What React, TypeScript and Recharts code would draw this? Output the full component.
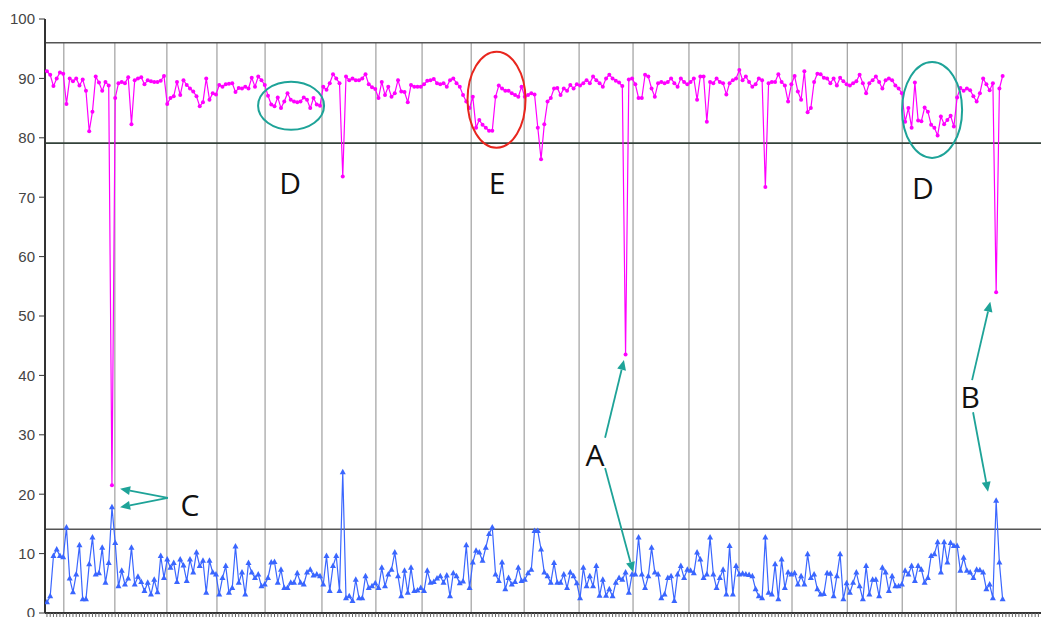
import React from 'react';
import { LineChart, Line, XAxis, YAxis, ReferenceLine, ReferenceDot } from 'recharts';

// upper series (magenta), one value per sample, grouped by the blocks between the vertical dividers
const upperSeries = [
  91.2, 90.6, 88.7, 90, 91, 90.8,
  85.7, 90, 89.5, 90, 88.8, 89.8, 87.9, 81.1, 84.4, 90.3, 89.3, 87.9, 89.4, 88.8, 21.5,
  86.7, 89.2, 89.4, 89.2, 90.2, 82.3, 89.7, 90, 90.2, 89, 89.7, 89.5, 89.4, 89.4, 89.6, 90.4,
  85.7, 86.7, 87, 89.4, 87.2, 89.7, 88.9, 88.3, 87.8, 87, 85.3, 86, 90, 86.4, 87.5, 87.3,
  88.9, 88.6, 89, 89.1, 89.2, 87.7, 88.4, 88.3, 88.6, 88.3, 90.1, 88.6, 90.3, 89.7, 88.9,
  87.1, 85.6, 85.3, 86.8, 85, 86.1, 87.5, 86.4, 86.1, 86, 86.1, 86.8, 86.4, 85, 86.7, 85.6, 85.4,
  88.6, 88.1, 89.2, 90.7, 90, 89.2, 73.5, 90.3, 89.7, 90, 89.7, 89.7, 90, 90.7, 89, 88.5, 88.2,
  86.7, 89.4, 87.2, 88.6, 86.9, 87.5, 89.7, 87.8, 87.7, 86, 88.9, 88.6, 88.6, 88.6,
  89, 89.6, 89.7, 89.9, 89.2, 89, 89.2, 88.6, 89.7, 90, 89.2, 88.6, 87.2, 86.1, 85,
  86.9, 81.7, 83, 82.2, 81.7, 81.2, 81.2, 86.9, 88.8, 88.3, 87.9, 87.9, 87.5, 87.2, 86.9, 88.6,
  86.9, 87.2, 87.5, 87.3, 81.7, 76.4, 82.3, 86.1, 86.7, 88.3, 88.4, 87.2, 88.3, 87.9, 88.9, 88.3, 89,
  88.8, 89.2, 89.7, 89.2, 90.3, 89.7, 89.2, 88.6, 90, 90.6, 90, 89.6, 89.3, 88.7, 43.5, 89.8, 90,
  89, 86.7, 86.7, 90.6, 90.3, 88.3, 86.9, 89.2, 89.4, 89.2, 89.4, 90, 89.2, 88.6, 90, 89.4, 89,
  89.4, 90, 86.4, 90.3, 90.3, 82.7, 89.4, 89.2, 90, 89.4, 89.2, 87.3, 89.2, 89.7, 90,
  91.4, 89.7, 90.3, 89.4, 88.6, 89, 90, 89.7, 71.7, 89.2, 89.4, 89.4, 90.7, 89.4, 88.8, 86.1, 89,
  90.4, 87.8, 86.4, 91.2, 84.3, 85, 89.4, 90.8, 90.7, 90.1, 90, 89.2, 90, 88.8, 90.1, 89.5, 89,
  88.8, 89.2, 89.5, 90.6, 89.2, 87.5, 89.2, 89.7, 90.3, 89.4, 88.3, 89.7, 90, 89.7, 88.8, 88.3, 87.5,
  82.7, 85, 81.7, 89.3, 82.9, 82.8, 85.1, 84.4, 82.2, 81.7, 80.4, 83.6, 82.3, 83, 83.7, 81.9,
  86.8, 88.4, 87.9, 88.3, 88, 87, 86.1, 87.5, 90, 89, 88, 89.2, 54, 88.3, 90.4,
];

// lower series (blue)
const lowerSeries = [
  1.8, 2.8, 9.6, 10.7, 9.6, 9.4,
  14.4, 5.8, 3.5, 6.5, 11.4, 2.3, 2.3, 8.2, 12.7, 6.5, 6.7, 11, 5.1, 8.4, 17.8,
  11.8, 4.5, 7.1, 4.8, 5.8, 11, 4.8, 6.1, 5.2, 3.7, 5.1, 3.1, 5.6, 3.5, 9.6, 5.9,
  9, 7.6, 8.4, 5.2, 9, 8, 5.4, 9, 6.8, 10.2, 7.9, 8.8, 3.4, 8.8, 6.8, 6.5,
  3.1, 5.9, 7.9, 3.4, 4.2, 11.2, 5.1, 6.8, 3.1, 8.4, 6.8, 5.9, 6.5, 4.5, 4.8,
  5.9, 8.5, 8.6, 5.1, 7.3, 4.2, 4.2, 5.1, 5.1, 6.7, 5.1, 4.8, 6.8, 7.3, 6.3, 6.5, 6.2,
  4.8, 9.6, 3.7, 7.9, 9.6, 3.7, 23.7, 2.5, 2.8, 2, 5.6, 2.5, 2.5, 6.2, 4.2, 4.5, 5,
  4.2, 7.6, 4.5, 6.5, 7.3, 10.2, 6.2, 2.8, 7.1, 3.4, 7.6, 3.7, 3.8, 4.2,
  3.7, 7.1, 5.1, 5.2, 5.8, 6.2, 5.1, 6.3, 2.8, 6.7, 6.2, 5, 5.3, 11.4, 4.2,
  8.5, 10.5, 10.2, 8.8, 11, 13.3, 14.4, 6.5, 5.4, 8.5, 4, 5.9, 4.8, 5.2, 7.6, 5.4,
  5.6, 6.7, 7.3, 13.8, 13.8, 10.7, 6.8, 6.2, 5.1, 8.4, 5.1, 5.1, 6.5, 4.2, 6.8, 6.2, 5,
  2.5, 7.6, 4.5, 6.2, 4.5, 7.9, 2.9, 5.6, 2.9, 4, 2.8, 5.1, 5.9, 5.6, 6.8, 3.4, 6.5,
  6.5, 12.7, 6.5, 4.2, 6.2, 11, 6.8, 6.5, 2.5, 3.1, 5.9, 6.2, 2, 6.5, 7.9, 5.9, 7.3,
  7.1, 6.7, 10.2, 9, 5.9, 6.5, 12.7, 6.5, 4.2, 5.9, 7.3, 3.1, 11.3, 3.1, 7.9,
  6.5, 6.6, 6.5, 6.4, 6.2, 4, 2.8, 2.5, 12.7, 3.4, 3.1, 8.2, 2.3, 9, 4.2, 6.8, 6.5,
  6.7, 4.8, 6.2, 4.8, 9.9, 5.9, 6.5, 4, 3.1, 3.2, 6.7, 6.6, 2.8, 6.2, 9.9, 2.3, 5,
  3.4, 5.1, 6.8, 4.5, 2.3, 7.9, 3.1, 5.6, 5.6, 2.8, 7.6, 6.8, 3.7, 6.2, 4.5, 4.5, 4.8,
  7.1, 6.5, 7.9, 5.4, 7.9, 7.3, 5.1, 5.9, 9.6, 9.9, 11.9, 6.8, 11.9, 8.5, 11.8, 11.3,
  11.3, 7.1, 9.3, 7.1, 6.8, 5.9, 7.3, 7.2, 6.8, 4, 4.8, 2.5, 18.9, 8.5, 2.3,
];

const yTicks = [0, 10, 20, 30, 40, 50, 60, 70, 80, 90, 100];
const limitLevels = [96, 79.1, 14.1];
const dividers = [5.2, 20.9, 36.9, 52.3, 67.1, 84.6, 101.2, 115.4, 130.5, 146.8, 163.7, 180.3, 197.5, 212.9, 229.2, 246.2, 263.1, 279.7];

// annotations, in sample index / value units
const letters = [
  { t: 'D', i: 74.8, v: 72.4 },
  { t: 'E', i: 138.5, v: 72.4 },
  { t: 'D', i: 269.5, v: 71.7 },
  { t: 'C', i: 44, v: 18.2 },
  { t: 'A', i: 168.6, v: 26.6 },
  { t: 'B', i: 284, v: 36.5 },
];
const rings = [
  { i: 75.1, v: 85.4, red: false },
  { i: 138.3, v: 86.4, red: true },
  { i: 272.3, v: 84.7, red: false },
];
const ringSizes = [[33, 24], [29, 48], [30, 48]];
const arrows = [
  { from: [37.2, 19.4], to: [22.5, 20.9] },
  { from: [37.2, 19.4], to: [22.5, 17.8] },
  { from: [171.7, 29.5], to: [177.5, 42.6] },
  { from: [171.7, 24.4], to: [180.3, 6.9] },
  { from: [284.6, 39.2], to: [290.2, 52.4] },
  { from: [284.9, 33.8], to: [289.5, 20.4] },
];

const TEAL = '#1ea398';
const RED = '#e8261e';
const MAGENTA = '#ff00ff';
const BLUE = '#3a66ff';

const data = upperSeries.map((m, i) => ({ i, m, b: lowerSeries[i] }));
const xTicks = Array.from({ length: 306 }, (_, k) => k);

const triangleDot = (props: any) => {
  const { cx, cy, index } = props;
  if (cx == null || cy == null) return <g key={`t-${index}`} />;
  return (
    <polygon
      key={`t-${index}`}
      points={`${cx},${cy - 3.5} ${cx - 3},${cy + 2} ${cx + 3},${cy + 2}`}
      fill={BLUE}
    />
  );
};

const arrowShape = (p: any) => {
  const { x1, y1, x2, y2 } = p;
  if (x1 == null) return <g />;
  const ang = Math.atan2(y2 - y1, x2 - x1);
  const L = 10;
  const W = 4.5;
  const bx = x2 - L * Math.cos(ang);
  const by = y2 - L * Math.sin(ang);
  const pts = `${x2},${y2} ${bx + W * Math.sin(ang)},${by - W * Math.cos(ang)} ${bx - W * Math.sin(ang)},${by + W * Math.cos(ang)}`;
  return (
    <g>
      <line x1={x1} y1={y1} x2={bx} y2={by} stroke={TEAL} strokeWidth={1.8} />
      <polygon points={pts} fill={TEAL} />
    </g>
  );
};

const App: React.FC = () => {
  return (
    <div style={{ position: 'absolute', left: 0, top: 0, width: 1041, height: 617, background: '#fff', fontFamily: '"Liberation Sans", Arial, sans-serif' }}>
      <LineChart width={1041} height={617} data={data} margin={{ top: 19, right: 0, bottom: 0, left: 0 }}>
        <XAxis
          type="number"
          dataKey="i"
          domain={[-0.6, 305.8]}
          allowDataOverflow
          ticks={xTicks}
          interval={0}
          tickFormatter={() => ''}
          tickSize={4}
          height={4}
          axisLine={{ stroke: '#333', strokeWidth: 2 }}
          tickLine={{ stroke: '#666' }}
        />
        <YAxis
          domain={[0, 100]}
          ticks={yTicks}
          width={45}
          tickSize={6}
          tickMargin={4}
          interval={0}
          tick={{ fontSize: 15, fill: '#444' }}
          axisLine={{ stroke: '#333', strokeWidth: 2 }}
          tickLine={{ stroke: '#333' }}
        />

        {dividers.map((d, k) => (
          <ReferenceLine key={`v-${k}`} segment={[{ x: d, y: 0 }, { x: d, y: limitLevels[0] }]} stroke="#8c8c8c" strokeWidth={1} />
        ))}
        {limitLevels.map((lv, k) => (
          <ReferenceLine key={`h-${k}`} y={lv} stroke={k === 1 ? '#33423a' : '#555'} strokeWidth={1.6} />
        ))}

        <Line
          type="linear"
          dataKey="m"
          stroke={MAGENTA}
          strokeWidth={1.2}
          dot={{ r: 2, fill: MAGENTA, stroke: 'none' }}
          isAnimationActive={false}
        />
        <Line
          type="linear"
          dataKey="b"
          stroke={BLUE}
          strokeWidth={1.2}
          dot={triangleDot}
          isAnimationActive={false}
        />

        {rings.map((r, k) => (
          <ReferenceDot
            key={`r-${k}`}
            x={r.i}
            y={r.v}
            r={1}
            shape={(p: any) => (
              <ellipse cx={p.cx} cy={p.cy} rx={ringSizes[k][0]} ry={ringSizes[k][1]} fill="none" stroke={r.red ? RED : TEAL} strokeWidth={2} />
            )}
          />
        ))}
        {arrows.map((a, k) => (
          <ReferenceLine
            key={`a-${k}`}
            segment={[{ x: a.from[0], y: a.from[1] }, { x: a.to[0], y: a.to[1] }]}
            shape={arrowShape}
          />
        ))}
        {letters.map((l, k) => (
          <ReferenceDot
            key={`l-${k}`}
            x={l.i}
            y={l.v}
            r={1}
            shape={(p: any) => (
              <text x={p.cx} y={p.cy} textAnchor="middle" dominantBaseline="central" fontSize={30} fill="#111" fontFamily='"Open Sans", sans-serif'>
                {l.t}
              </text>
            )}
          />
        ))}
      </LineChart>
    </div>
  );
};

export default App;
